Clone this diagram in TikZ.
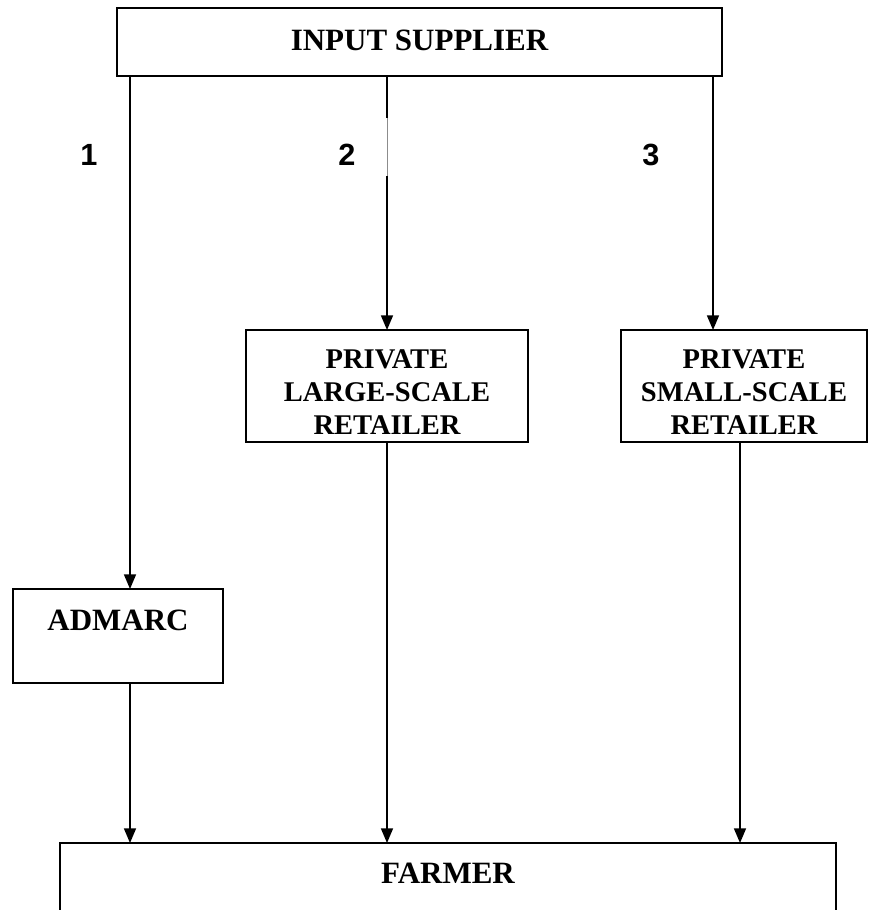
\documentclass[tikz,border=0pt]{standalone}
\usepackage{fontspec}
\setmainfont{Liberation Serif}
\newfontfamily\numfont{Liberation Sans}
\usetikzlibrary{arrows.meta}
\begin{document}
\begin{tikzpicture}[x=0.75pt,y=-0.75pt,
  box/.style={draw, line width=1.4pt, outer sep=0pt, inner sep=0pt},
  big/.style={font=\bfseries\fontsize{23.25}{28}\selectfont},
  mid/.style={font=\bfseries\fontsize{21.4}{25}\selectfont, align=center},
  num/.style={font=\numfont\bfseries\fontsize{23}{26}\selectfont},
  arr/.style={line width=1.2pt, -{Triangle[length=11pt,width=9pt]}},
  ln/.style={line width=1.2pt}]
\useasboundingbox (0,0) rectangle (895,910);
% boxes
\node[box, minimum width=453.75pt, minimum height=51pt] (sup) at (419.5,42) {};
\node[big] (suptxt) at (419.5,40) {INPUT SUPPLIER};
\node[box, minimum width=211.5pt, minimum height=84pt] (large) at (387,386) {};
\node[mid] (largetxt) at (387,392) {PRIVATE\\LARGE-SCALE\\RETAILER};
\node[box, minimum width=184.5pt, minimum height=84pt] (small) at (744,386) {};
\node[mid] (smalltxt) at (744,392) {PRIVATE\\SMALL-SCALE\\RETAILER};
\node[box, minimum width=157.5pt, minimum height=70.5pt] (admarc) at (118,636) {};
\node[big] (admarctxt) at (118,620) {ADMARC};
\node[outer sep=0pt, inner sep=0pt, minimum width=582pt, minimum height=50.25pt] (farmer) at (448,876.5) {};
\draw[line width=1.4pt] (farmer.south west) -- (farmer.north west) -- (farmer.north east) -- (farmer.south east);
\node[big] (farmertxt) at (448,873) {FARMER};
% numbers
\node[num] (n1) at (89,155) {1};
\node[num] (n2) at (347,155) {2};
\node[num] (n3) at (651,155) {3};
% connector x positions
\coordinate (x1) at (130,0);
\coordinate (x2) at (387,0);
\coordinate (x3) at (713,0);
\coordinate (x4) at (740,0);
\coordinate (g1) at (387,118);
\coordinate (g2) at (387,176);
% connectors
\draw[arr] (x1 |- sup.south) -- (x1 |- admarc.north);
\draw[ln] (x2 |- sup.south) -- (g1);
\draw[line width=0.4pt, black!45] (g1) -- (g2);
\draw[arr] (g2) -- (x2 |- large.north);
\draw[arr] (x3 |- sup.south) -- (x3 |- small.north);
\draw[arr] (x1 |- admarc.south) -- (x1 |- farmer.north);
\draw[arr] (x2 |- large.south) -- (x2 |- farmer.north);
\draw[arr] (x4 |- small.south) -- (x4 |- farmer.north);
\end{tikzpicture}
\end{document}
